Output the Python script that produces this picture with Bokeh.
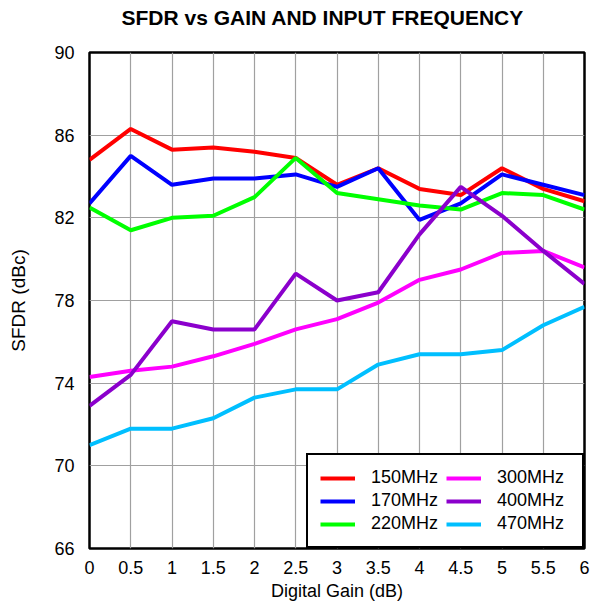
from bokeh.plotting import figure
from bokeh.models import Legend, LegendItem, FixedTicker, Range1d, Title
from bokeh.embed import file_html
from bokeh.resources import INLINE

gain = [0, 0.5, 1, 1.5, 2, 2.5, 3, 3.5, 4, 4.5, 5, 5.5, 6]
sfdr_150 = [84.8, 86.3, 85.3, 85.4, 85.2, 84.9, 83.6, 84.4, 83.4, 83.1, 84.4, 83.4, 82.8]
sfdr_170 = [82.7, 85.0, 83.6, 83.9, 83.9, 84.1, 83.5, 84.4, 81.9, 82.7, 84.1, 83.6, 83.1]
sfdr_220 = [82.5, 81.4, 82.0, 82.1, 83.0, 84.9, 83.2, 82.9, 82.6, 82.4, 83.2, 83.1, 82.4]
sfdr_300 = [74.3, 74.6, 74.8, 75.3, 75.9, 76.6, 77.1, 77.9, 79.0, 79.5, 80.3, 80.4, 79.6]
sfdr_400 = [72.9, 74.4, 77.0, 76.6, 76.6, 79.3, 78.0, 78.4, 81.2, 83.5, 82.1, 80.4, 78.8]
sfdr_470 = [71.0, 71.8, 71.8, 72.3, 73.3, 73.7, 73.7, 74.9, 75.4, 75.4, 75.6, 76.8, 77.7]

series = [
    ("150MHz", sfdr_150, "#ff0000"),
    ("170MHz", sfdr_170, "#0000ff"),
    ("220MHz", sfdr_220, "#00ff00"),
    ("300MHz", sfdr_300, "#ff00ff"),
    ("400MHz", sfdr_400, "#8b00cc"),
    ("470MHz", sfdr_470, "#00bfff"),
]

x_ticks = [0, 0.5, 1, 1.5, 2, 2.5, 3, 3.5, 4, 4.5, 5, 5.5, 6]
y_ticks = [66, 70, 74, 78, 82, 86, 90]
title_text = "SFDR vs GAIN AND INPUT FREQUENCY"

FONT = "Liberation Sans"

p = figure(width=591, height=604, output_backend="svg", toolbar_location=None,
           x_range=Range1d(0, 6), y_range=Range1d(66, 90),
           min_border_left=89, min_border_right=7, min_border_top=0, min_border_bottom=56)

# real title (outermost) and an empty spacer title between it and the frame
p.title.text = title_text
p.title.text_font = FONT
p.title.text_font_size = "21px"
p.title.text_font_style = "bold"
p.title.text_color = "black"
p.title.align = "left"
p.title.offset = 121 - 89
p.title.standoff = 6

spacer = Title(text=" ", text_font=FONT, text_font_size="10px", standoff=8)
p.add_layout(spacer, "above")

p.outline_line_color = "black"
p.outline_line_width = 2.5
p.outline_line_alpha = 1

for ax in (p.xaxis, p.yaxis):
    ax.axis_line_color = None
    ax.major_tick_line_color = None
    ax.minor_tick_line_color = None
    ax.major_label_text_font = FONT
    ax.major_label_text_font_size = "18px"
    ax.major_label_text_color = "black"
    ax.axis_label_text_font = FONT
    ax.axis_label_text_font_size = "18px"
    ax.axis_label_text_font_style = "normal"
    ax.axis_label_text_color = "black"

p.yaxis.axis_label_text_font_size = "19px"
p.xaxis.ticker = FixedTicker(ticks=x_ticks)
p.yaxis.ticker = FixedTicker(ticks=y_ticks)
p.xaxis.major_label_standoff = 6
p.yaxis.major_label_standoff = 9
p.xaxis.axis_label = "Digital Gain (dB)"
p.yaxis.axis_label = "SFDR (dBc)"
p.xaxis.axis_label_standoff = 4
p.yaxis.axis_label_standoff = 22

p.xgrid.grid_line_color = "#a0a0a0"
p.ygrid.grid_line_color = "#a0a0a0"
p.xgrid.grid_line_width = 1.2
p.ygrid.grid_line_width = 1.2

items = []
for name, vals, color in series:
    r = p.line(gain, vals, line_color=color, line_width=4)
    items.append(LegendItem(label=name, renderers=[r]))

legend = Legend(items=items, location="bottom_right", ncols=2, orientation="vertical",
                label_text_font=FONT, label_text_font_size="18px",
                label_text_color="black",
                border_line_color="black", border_line_width=2, border_line_alpha=1,
                background_fill_alpha=1, glyph_width=35, glyph_height=18,
                label_standoff=16, spacing=2, padding=12, margin=0,
                label_height=18, label_width=73)
p.add_layout(legend)

open("out.html", "w").write(file_html(p, INLINE))
